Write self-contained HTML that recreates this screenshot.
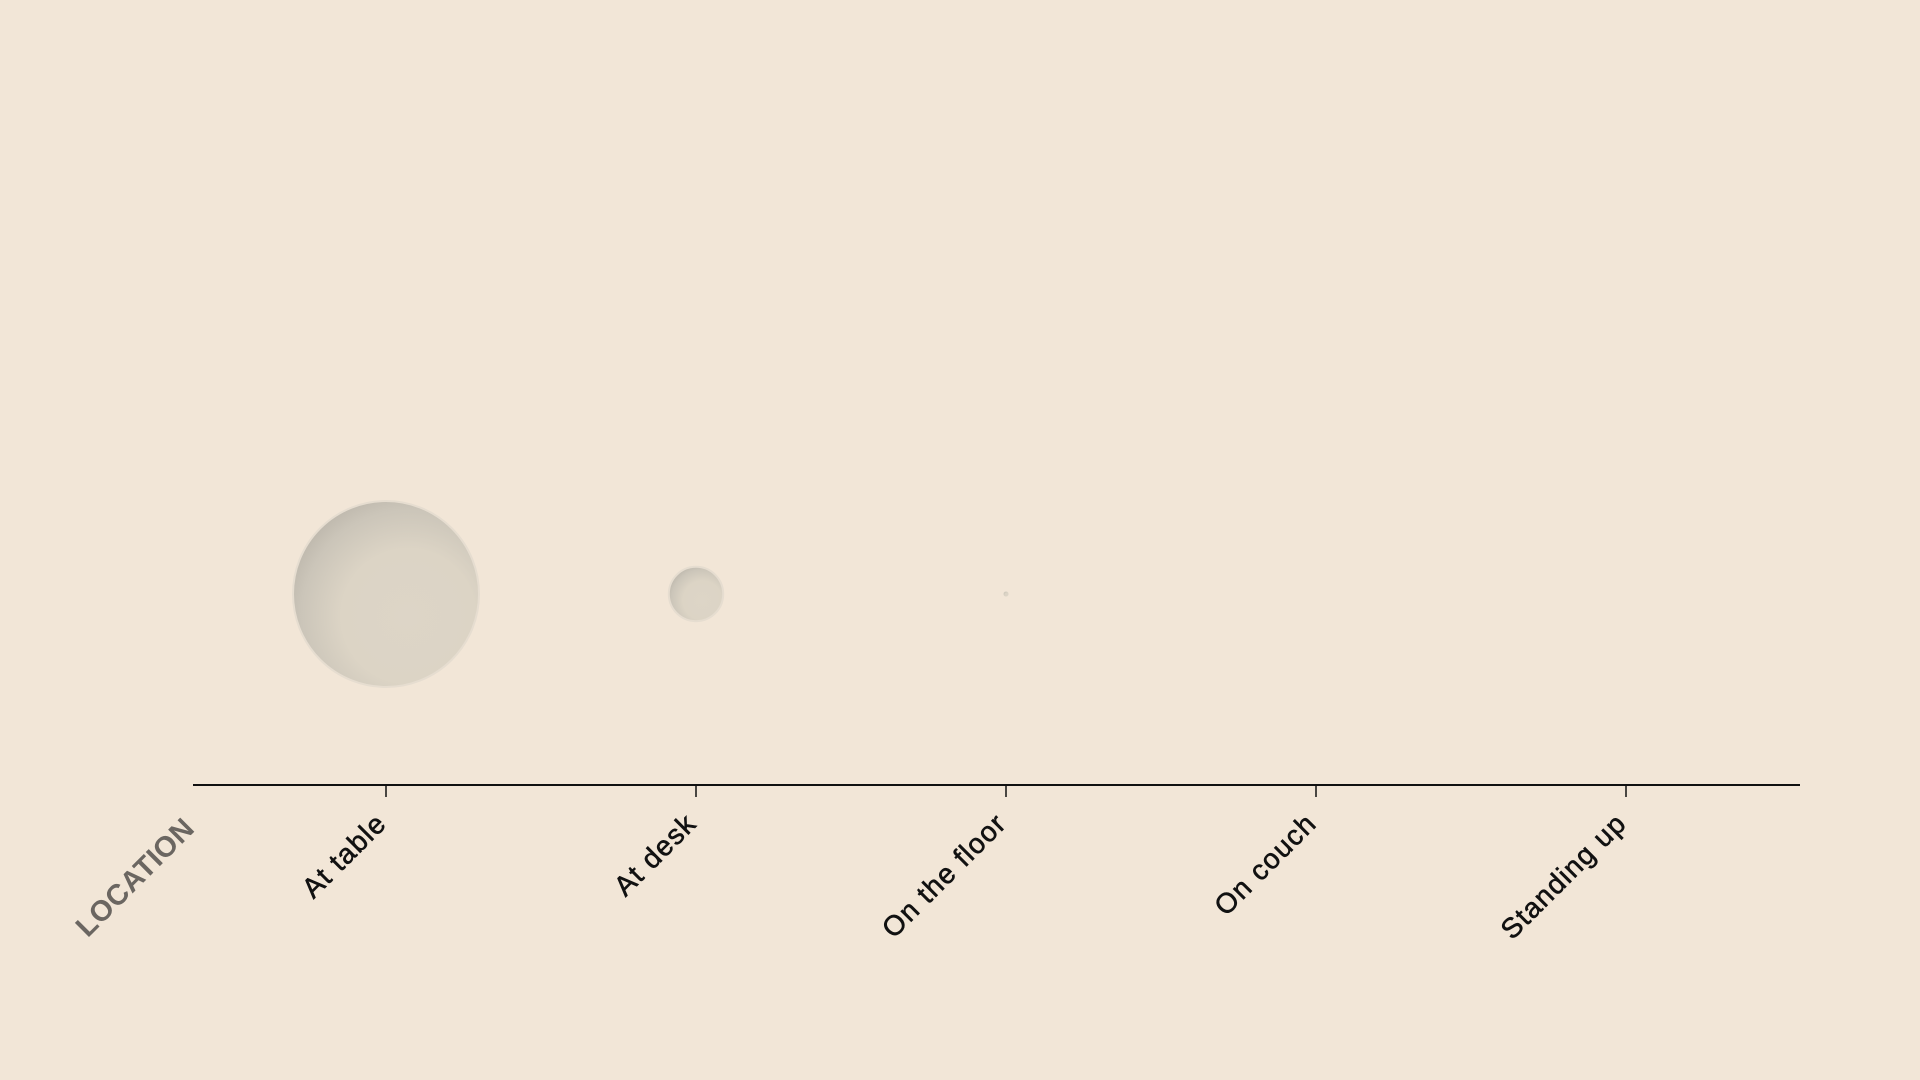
<!DOCTYPE html>
<html><head><meta charset="utf-8">
<style>
html,body{margin:0;padding:0;background:#f2e6d7;}
svg{display:block;}
.lbl{font-family:"Liberation Sans",sans-serif;font-size:28px;letter-spacing:1.3px;fill:#111;stroke:#111;stroke-width:0.6;}
.ttl{font-family:"Liberation Sans",sans-serif;font-size:29px;letter-spacing:0.5px;font-weight:bold;fill:#6b6661;}
</style></head>
<body>
<svg id="chart" width="1920" height="1080">
<defs>
<radialGradient id="bub" cx="0.62" cy="0.62" r="0.72">
<stop offset="0" stop-color="#ddd5c7"/>
<stop offset="0.5" stop-color="#dcd4c5"/>
<stop offset="0.8" stop-color="#cbc5b9"/>
<stop offset="1" stop-color="#b9b3a8"/>
</radialGradient>
</defs>
<rect width="1920" height="1080" fill="#f2e6d7"/>
<g id="marks"></g>
<g id="axis"></g>
</svg>
<script>
const categories = ["At table","At desk","On the floor","On couch","Standing up"];
const counts = [1380, 118, 1, 0, 0];

const marks = document.getElementById('marks');
const axis = document.getElementById('axis');
const NS = 'http://www.w3.org/2000/svg';
const x0 = 386, step = 310;
function xScale(i){ return x0 + i*step; }
const maxR = 93;
const maxV = Math.max(...counts);
function rScale(v){ return maxR*Math.sqrt(v/maxV); }
const cy = 594, axisY = 785;

counts.forEach((v,i)=>{
  const r = rScale(v);
  if (r <= 0) return;
  const c = document.createElementNS(NS,'circle');
  c.setAttribute('cx', xScale(i));
  c.setAttribute('cy', cy);
  c.setAttribute('r', Math.max(r,2.5));
  c.setAttribute('fill','url(#bub)');
  c.setAttribute('stroke','#e6ddd0');
  c.setAttribute('stroke-width', r>10?2:0.5);
  
  
  marks.appendChild(c);
});

const line = document.createElementNS(NS,'line');
line.setAttribute('x1',193); line.setAttribute('x2',1800);
line.setAttribute('y1',axisY); line.setAttribute('y2',axisY);
line.setAttribute('stroke','#111'); line.setAttribute('stroke-width',2);


axis.appendChild(line);

categories.forEach((c,i)=>{
  const x = xScale(i);
  const t = document.createElementNS(NS,'line');
  t.setAttribute('x1',x); t.setAttribute('x2',x);
  t.setAttribute('y1',axisY); t.setAttribute('y2',axisY+12);
  t.setAttribute('stroke','#111'); t.setAttribute('stroke-width',1.5);
  
  
  axis.appendChild(t);
  const tx = document.createElementNS(NS,'text');
  tx.setAttribute('class','lbl');
  tx.setAttribute('text-anchor','end');
  tx.setAttribute('transform','translate('+(x+2)+','+(axisY+40)+') rotate(-45)');
  tx.textContent = c;
  
  
  axis.appendChild(tx);
});

const ttl = document.createElementNS(NS,'text');
ttl.setAttribute('class','ttl');
ttl.setAttribute('text-anchor','end');
ttl.setAttribute('transform','translate(196,830) rotate(-45)');
ttl.textContent = 'LOCATION';


axis.appendChild(ttl);
</script>
</body></html>
